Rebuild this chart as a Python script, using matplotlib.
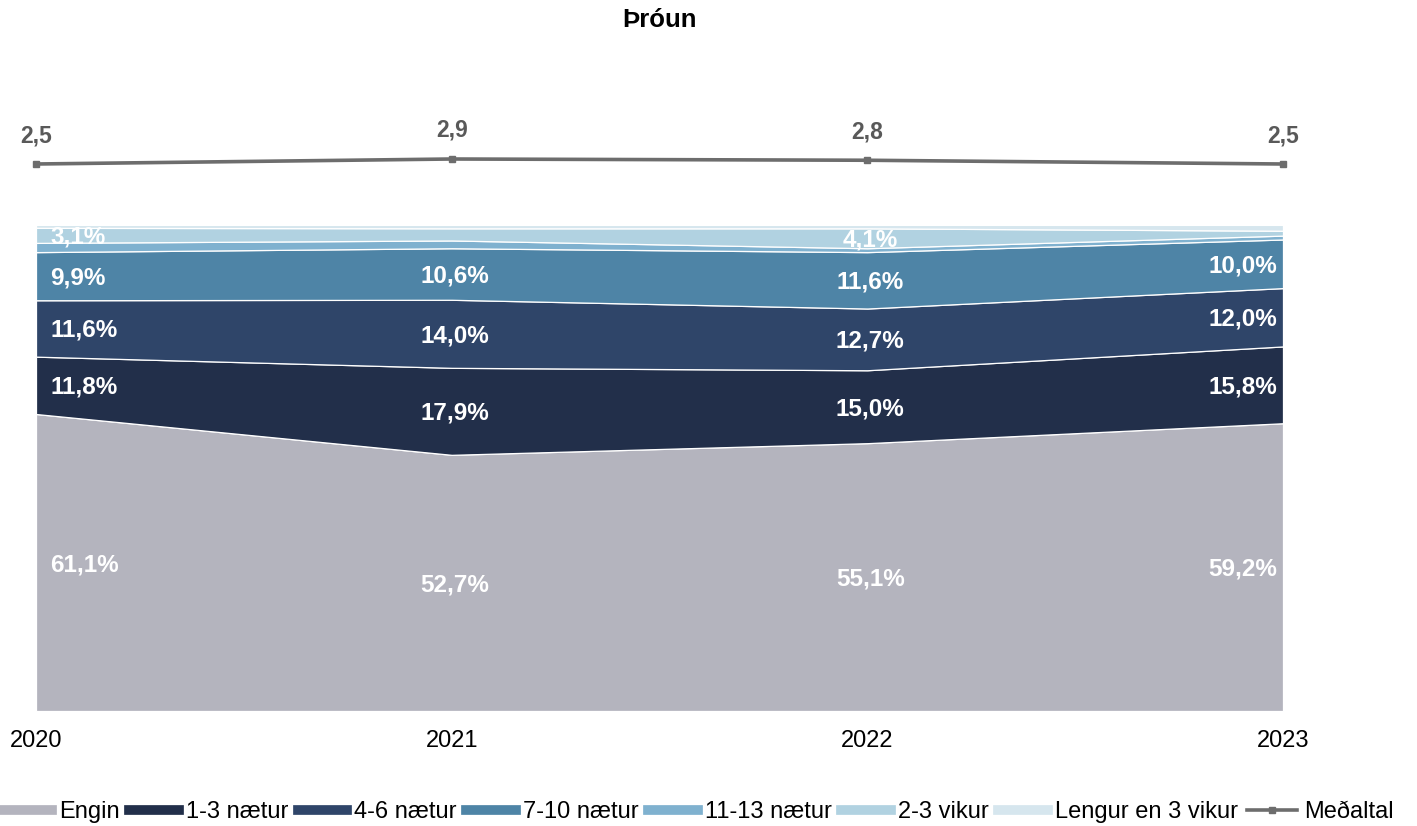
import numpy as np
import matplotlib.pyplot as plt
from matplotlib.lines import Line2D

plt.rcParams['font.family'] = ['Liberation Sans', 'DejaVu Sans']

years = ['2020', '2021', '2022', '2023']
series_names = ['Engin', '1-3 nætur', '4-6 nætur', '7-10 nætur',
                '11-13 nætur', '2-3 vikur', 'Lengur en 3 vikur']
engin = [61.1, 52.7, 55.1, 59.2]
naetur_1_3 = [11.8, 17.9, 15.0, 15.8]
naetur_4_6 = [11.6, 14.0, 12.7, 12.0]
naetur_7_10 = [9.9, 10.6, 11.6, 10.0]
naetur_11_13 = [1.9, 1.6, 0.8, 0.8]
vikur_2_3 = [3.1, 2.5, 4.1, 1.0]
lengur = [0.6, 0.7, 0.7, 1.2]
medaltal = [2.5, 2.9, 2.8, 2.5]

# which labels are shown (small bands are not labelled in the original)
show_label = [
    [True, True, True, True],
    [True, True, True, True],
    [True, True, True, True],
    [True, True, True, True],
    [False, False, False, False],
    [True, False, True, False],
    [False, False, False, False],
]

colors = ['#B4B4BE', '#222F4A', '#2F4569', '#4E84A6', '#7FB1CF', '#B1D2E1', '#D6E6EE']
line_color = '#6D6D6D'

W, H = 1417, 826
fig = plt.figure(figsize=(W / 100, H / 100), dpi=100)
ax = fig.add_axes([36 / W, 115 / H, (1283 - 36) / W, 611 / H])

x = np.arange(len(years))
data = np.array([engin, naetur_1_3, naetur_4_6, naetur_7_10,
                 naetur_11_13, vikur_2_3, lengur])
ax.stackplot(x, data, colors=colors, edgecolor='white', linewidth=0.9)
ax.set_xlim(0, 3)
ax.set_ylim(0, 125.7)

cum = np.cumsum(data, axis=0)
for i in range(data.shape[0]):
    for j in range(len(years)):
        if not show_label[i][j]:
            continue
        mid = cum[i, j] - data[i, j] / 2
        txt = f"{data[i, j]:.1f}%".replace('.', ',')
        if j == 0:
            ha, dx = 'left', 14
        elif j == len(years) - 1:
            ha, dx = 'right', -6
        else:
            ha, dx = 'center', 3
        ax.annotate(txt, (x[j], mid), xytext=(dx, -2), textcoords='offset pixels',
                    ha=ha, va='center', color='white', fontsize=17.5, fontweight='bold')

for s in ax.spines.values():
    s.set_visible(False)
ax.set_yticks([])
ax.set_xticks(x)
ax.set_xticklabels(years, fontsize=17)
ax.tick_params(axis='x', length=0, pad=14)

ax2 = ax.twinx()
ax2.set_ylim(2.5 - (711 - 164) / 12.5, 2.5 + (164 - 100) / 12.5)
ax2.plot(x, medaltal, color=line_color, lw=2.6, marker='s', markersize=5, clip_on=False)
for j, v in enumerate(medaltal):
    ax2.annotate(f"{v:.1f}".replace('.', ','), (x[j], v), xytext=(0, 17),
                 textcoords='offset pixels', ha='center', va='bottom',
                 color='#595959', fontsize=16.5, fontweight='bold')
ax2.set_yticks([])
for s in ax2.spines.values():
    s.set_visible(False)

fig.text(660 / W, 1 - 20 / H, 'Þróun', ha='center', va='center',
         fontsize=18.5, fontweight='bold')

handles = [Line2D([0], [0], color=c, lw=7) for c in colors]
handles.append(Line2D([0], [0], color=line_color, lw=2.6, marker='s', markersize=5))
fig.legend(handles, series_names + ['Meðaltal'], loc='center',
           bbox_to_anchor=(698 / W, 1 - 812 / H), ncol=8, frameon=False,
           fontsize=17, handlelength=2.1, handletextpad=0.3, columnspacing=0.4)

fig.savefig('out.png', dpi=100)
